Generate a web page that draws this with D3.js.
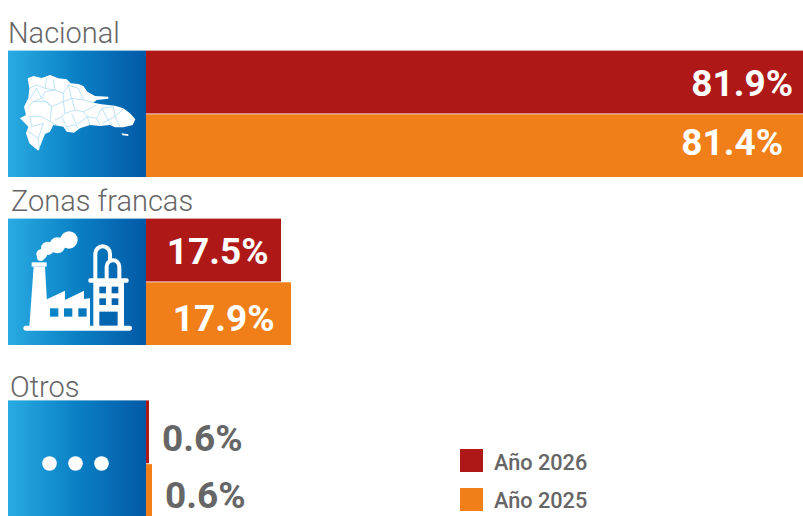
<!DOCTYPE html>
<html><head><meta charset="utf-8">
<script src="https://cdn.jsdelivr.net/npm/d3@7/dist/d3.min.js"></script>
<style>html,body{margin:0;padding:0;background:#fff;overflow:hidden}svg{display:block}text{font-family:Roboto,sans-serif}</style>
</head><body><svg id="c" width="803" height="516"></svg>
<script>
const categories = ["Nacional", "Zonas francas", "Otros"];
const seriesNames = ["Año 2026", "Año 2025"];
const values2026 = [81.9, 17.5, 0.6];
const values2025 = [81.4, 17.9, 0.6];
const valueLabels2026 = ["81.9%", "17.5%", "0.6%"];
const valueLabels2025 = ["81.4%", "17.9%", "0.6%"];

const W = 803, H = 516, RED = "#ae1917", ORANGE = "#f07f19", GRAY = "#666666";
const svg = d3.select("#c").attr("viewBox", `0 0 ${W} ${H}`);
const defs = svg.append("defs");
const grad = defs.append("linearGradient").attr("id", "blue");
[[0, "#29abe2"], [0.5, "#0a80c4"], [1, "#0359a6"]].forEach(([o, c]) => grad.append("stop").attr("offset", o).attr("stop-color", c));

// The source bars are not drawn to a single linear scale: each series is calibrated from the picture.
const x26 = d3.scaleLinear().domain([0, 0.6, 17.5, 81.9]).range([146, 149, 281, 803]);
const x25 = d3.scaleLinear().domain([0, 0.6, 17.9, 81.4]).range([146, 152, 291, 803]);
const rowY = d3.scaleOrdinal().domain(categories).range([50.6, 218.6, 400.4]);
const halfH = 62.9, ICON_X = 8, ICON_W = 138;
const titleX = d3.scaleOrdinal().domain(categories).range([8, 11, 10]);
const titleY = d3.scaleOrdinal().domain(categories).range([43, 211, 397]);
const labelX26 = d3.scaleOrdinal().domain(categories).range([793, 268.5, 242.5]);
const labelX25 = d3.scaleOrdinal().domain(categories).range([783, 274.5, 245.5]);

categories.forEach((c, i) => {
  const y = rowY(c);
  svg.append("rect").attr("x", ICON_X).attr("y", y).attr("width", ICON_W).attr("height", 2 * halfH + .6).attr("fill", "url(#blue)");
  svg.append("rect").attr("x", 146).attr("y", y).attr("width", x26(values2026[i]) - 146).attr("height", halfH).attr("fill", RED);
  svg.append("rect").attr("x", 146).attr("y", y + halfH + .8).attr("width", x25(values2025[i]) - 146).attr("height", halfH - .2).attr("fill", ORANGE);
  svg.append("text").attr("x", titleX(c)).attr("y", titleY(c)).attr("font-size", 29).attr("font-weight", 300).attr("fill", "#666").text(c);
  const small = i === 2;
  const fill = small ? GRAY : "#fff";
  svg.append("text").attr("x", labelX26(c)).attr("y", [95.5, 264, 451][i]).attr("text-anchor", "end").attr("font-size", 37).attr("font-weight", 700).attr("fill", fill).text(valueLabels2026[i]);
  svg.append("text").attr("x", labelX25(c)).attr("y", [155, 331, 508][i]).attr("text-anchor", "end").attr("font-size", 37).attr("font-weight", 700).attr("fill", fill).text(valueLabels2025[i]);
});

// Legend
seriesNames.forEach((s, i) => {
  const ly = [449, 488][i];
  svg.append("rect").attr("x", 460).attr("y", ly).attr("width", 23).attr("height", 23).attr("fill", i ? ORANGE : RED);
  svg.append("text").attr("x", 494).attr("y", [470, 508][i]).attr("font-size", 21.7).attr("font-weight", 500).attr("fill", GRAY).text(s);
});

// --- Icons (traced in 3x crop coordinates, decorative) ---
const mapG = svg.append("g").attr("transform", "translate(0,10) scale(0.3333)");
const outline = [[83,205],[100,198],[125,204],[150,195],[175,205],[200,208],[212,220],[235,222],[250,228],[262,245],[285,258],[325,260],[325,266],[290,270],[280,278],[305,283],[345,287],[370,295],[390,310],[406,328],[398,345],[370,352],[345,352],[330,345],[300,348],[270,345],[240,355],[222,368],[200,365],[190,350],[160,345],[150,365],[135,372],[115,422],[100,410],[88,400],[78,370],[85,350],[60,325],[78,315],[72,290],[85,265],[88,235]];
const poly = d3.line().curve(d3.curveLinearClosed);
const open = d3.line();
mapG.append("path").attr("d", poly(outline)).attr("fill", "#fff");
mapG.append("path").attr("d", poly([[364,370],[385,373],[385,378],[368,376]])).attr("fill", "#fff");
[
 [[88,235],[110,225],[135,235],[140,205]],[[135,235],[165,240],[160,208]],[[165,240],[190,250],[205,225]],[[205,225],[235,235],[250,270],[280,278]],
 [[88,268],[110,235],[125,265],[100,275],[85,290]],[[125,265],[135,245],[165,240]],[[125,265],[155,290],[190,275],[190,250]],[[190,275],[215,265],[250,270]],[[205,225],[215,265]],
 [[100,275],[140,275],[155,290],[150,335],[170,345]],[[85,320],[125,320],[150,335]],[[90,320],[95,350],[130,340],[115,385],[118,420]],[[85,365],[115,385]],
 [[190,275],[195,310],[185,320],[165,330]],[[195,310],[225,300],[250,305],[290,285]],[[215,265],[225,300]],[[185,320],[200,350],[205,362]],[[200,350],[225,345],[235,355]],[[215,310],[230,345],[262,320],[250,305]],
 [[262,320],[270,345]],[[262,320],[290,325],[300,345]],[[290,325],[305,295],[325,330],[305,340]],[[305,295],[340,290],[345,320],[360,350]],[[345,320],[325,330],[335,345]],[[345,320],[370,296]]
].forEach(l => mapG.append("path").attr("d", open(l)).attr("fill", "none").attr("stroke", "#9ad3f0").attr("stroke-width", 1.9));

const fac = svg.append("g").attr("transform", "translate(0,185) scale(0.3333)").attr("fill", "#fff");
[[207,165,26],[172,181,24],[143,190,20],[125,208,16],[122,217,11]].forEach(([cx,cy,r]) => fac.append("circle").attr("cx",cx).attr("cy",cy).attr("r",r));
fac.append("rect").attr("x",70).attr("y",422).attr("width",326).attr("height",15).attr("rx",7);
fac.append("rect").attr("x",95).attr("y",232).attr("width",45).attr("height",13);
fac.append("path").attr("d", poly([[101,245],[135,245],[145,425],[88,425]]));
fac.append("path").attr("d", poly([[125,425],[125,350],[195,317],[195,345],[252,317],[252,342],[270,340],[270,425]]));
fac.append("path").attr("d", poly([[280,292],[372,292],[372,425],[280,425]]));
fac.append("rect").attr("x",265).attr("y",280).attr("width",121).attr("height",13).attr("rx",5);
["M286 282V206a22 22 0 0 1 44 0V232","M320 282V245a19 19 0 0 1 38 0V282"].forEach(d => fac.append("path").attr("d",d).attr("fill","none").attr("stroke","#fff").attr("stroke-width",12));
[[150,370,25,25,"#0a84c8"],[192,370,25,25,"#0a80c4"],[235,370,25,25,"#0677bd"],[298,305,20,20,"#0369b3"],[335,305,20,20,"#0362ac"],[298,340,20,20,"#0369b3"],[335,340,20,20,"#0362ac"],[298,380,55,42,"#0365af"]]
  .forEach(([x,y,w,h,f]) => fac.append("rect").attr("x",x).attr("y",y).attr("width",w).attr("height",h).attr("fill",f));

[49.5, 75.5, 101.5].forEach(cx => svg.append("circle").attr("cx", cx).attr("cy", 463.5).attr("r", 7.3).attr("fill", "#fff"));
</script></body></html>
